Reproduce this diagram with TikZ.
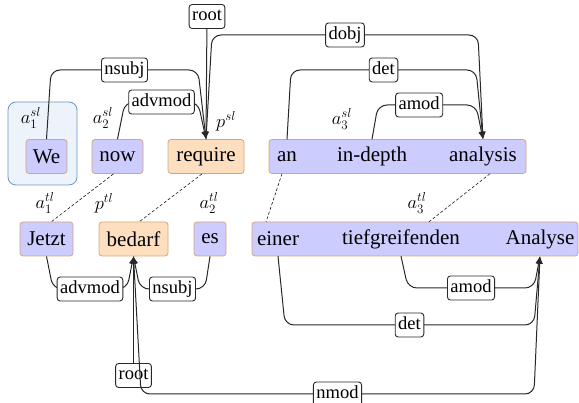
\RequirePackage{fix-cm}
\documentclass[tikz,border=0pt]{standalone}
\usepackage{fontspec}
\setmainfont{Liberation Serif}
\usetikzlibrary{arrows.meta,calc}
\definecolor{wblue}{RGB}{204,204,255}
\definecolor{wpeach}{RGB}{253,223,192}
\definecolor{wborder}{RGB}{214,164,120}
\definecolor{gfill}{RGB}{236,243,250}
\definecolor{gborder}{RGB}{104,150,196}
\definecolor{ecol}{RGB}{40,40,40}
\begin{document}
\begin{tikzpicture}[x=1pt,y=-1pt,
 wbox/.style={draw=wborder, line width=0.8pt, rounded corners=3pt, minimum height=34pt, inner sep=0pt, font=\fontsize{21}{24}\selectfont},
 bl/.style={wbox, fill=wblue},
 pe/.style={wbox, fill=wpeach},
 word/.style={minimum height=34pt, inner sep=0pt, font=\fontsize{21}{24}\selectfont},
 lab/.style={draw=ecol, fill=white, rounded corners=3pt, inner xsep=3pt, inner ysep=3.5pt, text height=13pt, text depth=4pt, line width=0.9pt, font=\fontsize{18.5}{20}\selectfont},
 edge/.style={draw=ecol, line width=1pt, rounded corners=9pt},
 arr/.style={edge, -{Latex[length=7.5pt,width=6.5pt]}},
 aligned/.style={densely dashed, line width=0.5pt},
 ann/.style={font=\fontsize{18.5}{20}\selectfont, inner sep=0pt}
]
\useasboundingbox (0,0) rectangle (579,403);

% group box
\node[fill=gfill, draw=gborder, line width=0.8pt, rounded corners=8pt, minimum width=69pt, minimum height=83pt] (grp) at (42.5,143.5) {};

% source-language row
\node[bl, minimum width=41pt] (we) at (46.5,156.5) {We};
\node[bl, minimum width=51pt] (now) at (117.5,156.5) {now};
\node[pe, minimum width=76pt] (req) at (206,156.5) {require};
\node[bl, minimum width=257pt] (sbox) at (397.5,156.5) {};
\node[word] (an) at (287,156.5) {an};
\node[word] (indepth) at (372,156.5) {in-depth};
\node[word] (analysis) at (483,156.5) {analysis};

% target-language row
\node[bl, minimum width=53pt] (jetzt) at (46.5,239) {Jetzt};
\node[pe, minimum width=69pt] (bedarf) at (133.5,239) {bedarf};
\node[bl, minimum width=32pt] (es) at (210,239) {es};
\node[bl, minimum width=326pt] (tbox) at (415,239) {};
\node[word] (einer) at (278,239) {einer};
\node[word] (tief) at (401,239) {tiefgreifenden};
\node[word] (Analyse) at (540,239) {Analyse};

% annotations
\node[ann] (as1) at (31,118) {$a_1^{sl}$};
\node[ann] (as2) at (103,118) {$a_2^{sl}$};
\node[ann] (ps) at (226,121) {$p^{sl}$};
\node[ann] (as3) at (342,119) {$a_3^{sl}$};
\node[ann] (at1) at (45,203) {$a_1^{tl}$};
\node[ann] (pt) at (104,203) {$p^{tl}$};
\node[ann] (at2) at (209,203) {$a_2^{tl}$};
\node[ann] (at3) at (417,203) {$a_3^{tl}$};

% alignment lines
\draw[aligned] ([xshift=-4pt]now.south) -- ([xshift=5pt]jetzt.north);
\draw[aligned] ([xshift=-4pt]req.south) -- ([xshift=6pt]bedarf.north);
\draw[aligned] ([xshift=-5pt]an.south) -- ([xshift=-12pt]einer.north);
\draw[aligned] ([xshift=7pt]analysis.south) -- ([xshift=28pt]tief.north);

% source dependencies
\node[lab] (rtop) at (207,16.5) {root};
\draw[arr] (rtop) -- (req.north);
\draw[arr] (we.north) -- (51,70) -- node[lab]{nsubj} (198,70) -- (req.north);
\draw[arr] (now.north) -- (125,102) -- node[lab]{advmod} (198,102) -- (req.north);
\draw[arr] (req.north) -- (212,35) -- node[lab]{dobj} (478,35) -- (analysis.north);
\draw[arr] (an.north) -- (291,70) -- node[lab]{det} (476,70) -- (analysis.north);
\draw[arr] (indepth.north) -- (378,105) -- node[lab,pos=0.42]{amod} (476,105) -- (analysis.north);

% target dependencies
\draw[arr] (jetzt.south) -- (53,289) -- node[lab]{advmod} (127,289) -- (bedarf.south);
\draw[arr] (es.south) -- (205,289) -- node[lab]{nsubj} (140,289) -- (bedarf.south);
\node[lab] (rbot) at (133.5,375.5) {root};
\draw[arr] (rbot) -- (bedarf.south);
\draw[arr] (bedarf.south) -- (141,394) -- node[lab]{nmod} (534,394) -- (Analyse.south);
\draw[arr] (tief.south) -- (408,288) -- node[lab]{amod} (534,288) -- (Analyse.south);
\draw[arr] (einer.south) -- (285,325) -- node[lab]{det} (534,325) -- (Analyse.south);
\end{tikzpicture}
\end{document}
